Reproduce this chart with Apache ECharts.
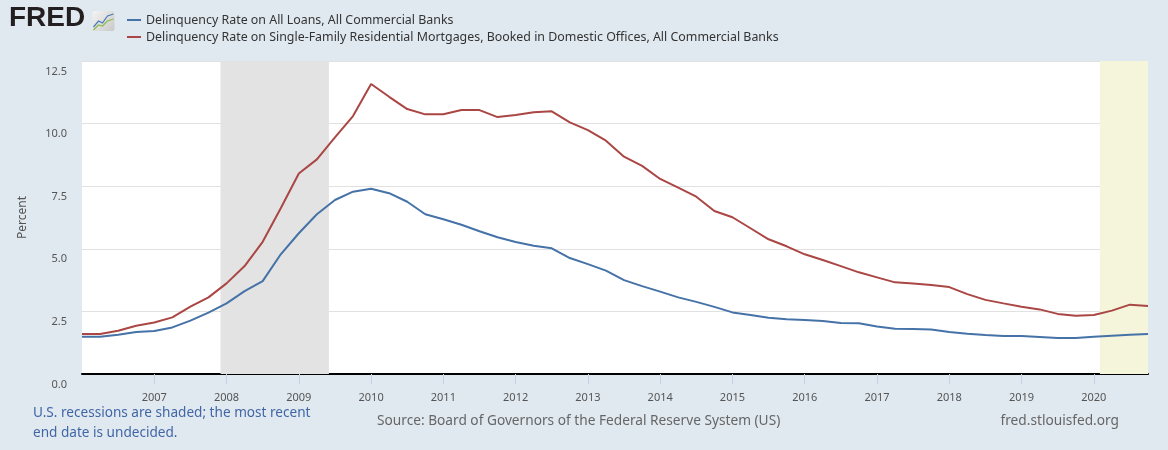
<!DOCTYPE html>
<html>
<head>
<meta charset="utf-8">
<script src="https://cdn.jsdelivr.net/npm/echarts@6/dist/echarts.min.js"></script>
<style>
  html, body { margin: 0; padding: 0; background: #e1e9f0; }
  #chart { width: 1168px; height: 450px; }
</style>
</head>
<body>
<div id="chart"></div>
<script>
// quarterly observations, 2006 Q1 .. 2020 Q4
var quarters = [
  '2006-01-01','2006-04-01','2006-07-01','2006-10-01',
  '2007-01-01','2007-04-01','2007-07-01','2007-10-01',
  '2008-01-01','2008-04-01','2008-07-01','2008-10-01',
  '2009-01-01','2009-04-01','2009-07-01','2009-10-01',
  '2010-01-01','2010-04-01','2010-07-01','2010-10-01',
  '2011-01-01','2011-04-01','2011-07-01','2011-10-01',
  '2012-01-01','2012-04-01','2012-07-01','2012-10-01',
  '2013-01-01','2013-04-01','2013-07-01','2013-10-01',
  '2014-01-01','2014-04-01','2014-07-01','2014-10-01',
  '2015-01-01','2015-04-01','2015-07-01','2015-10-01',
  '2016-01-01','2016-04-01','2016-07-01','2016-10-01',
  '2017-01-01','2017-04-01','2017-07-01','2017-10-01',
  '2018-01-01','2018-04-01','2018-07-01','2018-10-01',
  '2019-01-01','2019-04-01','2019-07-01','2019-10-01',
  '2020-01-01','2020-04-01','2020-07-01','2020-10-01'
];

var allLoans = [
  1.49, 1.49, 1.57, 1.68,
  1.72, 1.86, 2.13, 2.45,
  2.82, 3.31, 3.71, 4.78,
  5.62, 6.38, 6.95, 7.28,
  7.40, 7.22, 6.88, 6.38,
  6.18, 5.96, 5.70, 5.46,
  5.27, 5.12, 5.02, 4.63,
  4.39, 4.13, 3.75, 3.51,
  3.29, 3.06, 2.88, 2.68,
  2.46, 2.36, 2.25, 2.19,
  2.16, 2.12, 2.04, 2.03,
  1.90, 1.81, 1.80, 1.78,
  1.68, 1.61, 1.56, 1.52,
  1.52, 1.48, 1.44, 1.44,
  1.49, 1.53, 1.57, 1.60
];

var mortgages = [
  1.60, 1.60, 1.73, 1.93,
  2.06, 2.26, 2.69, 3.06,
  3.62, 4.31, 5.28, 6.62,
  8.01, 8.57, 9.45, 10.30,
  11.58, 11.07, 10.58, 10.37,
  10.37, 10.54, 10.54, 10.26,
  10.34, 10.45, 10.49, 10.05,
  9.74, 9.32, 8.68, 8.31,
  7.79, 7.44, 7.08, 6.51,
  6.26, 5.82, 5.38, 5.10,
  4.78, 4.55, 4.31, 4.06,
  3.86, 3.66, 3.61, 3.55,
  3.47, 3.19, 2.96, 2.82,
  2.69, 2.58, 2.40, 2.33,
  2.36, 2.53, 2.77, 2.72
];

var seriesNames = [
  'Delinquency Rate on All Loans, All Commercial Banks',
  'Delinquency Rate on Single-Family Residential Mortgages, Booked in Domestic Offices, All Commercial Banks'
];

var recessions = [
  ['2007-12-01', '2009-06-01'],
  ['2020-02-01', '2020-10-01']
];

var xRange = ['2006-01-01', '2020-10-01'];
var yTicks = [0, 2.5, 5, 7.5, 10, 12.5];

// date string -> fractional year, so the x axis can be a plain value axis
function yearOf(d) {
  var p = d.split('-');
  return +p[0] + (+p[1] - 1) / 12 + (+p[2] - 1) / 365;
}

function pairs(vals) {
  return quarters.map(function (d, i) { return [yearOf(d), vals[i]]; });
}

var chart = echarts.init(document.getElementById('chart'));

var option = {
  backgroundColor: '#e1e9f0',
  animation: false,
  textStyle: { fontFamily: 'Noto Sans' },
  grid: { left: 82, right: 20, top: 61, bottom: 76, backgroundColor: '#fff', show: true, borderWidth: 0 },
  legend: {
    left: 122, top: 9, orient: 'vertical', itemGap: 5,
    icon: 'rect', itemWidth: 14, itemHeight: 2,
    textStyle: { fontSize: 12.4, color: '#333', fontFamily: 'Noto Sans' },
    data: seriesNames
  },
  xAxis: {
    type: 'value',
    min: yearOf(xRange[0]), max: yearOf(xRange[1]), interval: 1,
    axisLine: { onZero: false, lineStyle: { color: '#000', width: 2 } },
    axisTick: { show: true, length: 10, lineStyle: { color: '#c4d3e3' } },
    axisLabel: {
      color: '#555', fontSize: 11, margin: 18,
      showMinLabel: false, showMaxLabel: false,
      formatter: function (v) { return Math.abs(v - Math.round(v)) < 1e-6 ? String(Math.round(v)) : ''; }
    },
    splitLine: { show: false }
  },
  yAxis: {
    type: 'value', min: 0, max: yTicks[yTicks.length - 1], interval: 2.5,
    name: 'Percent', nameLocation: 'middle', nameGap: 53, nameRotate: 90,
    nameTextStyle: { color: '#555', fontSize: 12 },
    axisLine: { show: false }, axisTick: { show: false },
    axisLabel: {
      color: '#555', fontSize: 11, margin: 15,
      verticalAlign: 'top', padding: [5, 0, 0, 0],
      formatter: function (v) { return v.toFixed(1); }
    },
    splitLine: { lineStyle: { color: '#e1e1e1' } }
  },
  series: [
    {
      name: seriesNames[0], type: 'line', data: pairs(allLoans),
      symbol: 'none', color: '#4572a7', lineStyle: { width: 2 }, z: 3,
      markArea: {
        silent: true,
        data: [
          [{ xAxis: yearOf(recessions[0][0]), itemStyle: { color: '#e3e3e3' } }, { xAxis: yearOf(recessions[0][1]) }],
          [{ xAxis: yearOf(recessions[1][0]), itemStyle: { color: '#f5f5dc' } }, { xAxis: yearOf(recessions[1][1]) }]
        ]
      }
    },
    {
      name: seriesNames[1], type: 'line', data: pairs(mortgages),
      symbol: 'none', color: '#aa4643', lineStyle: { width: 2 }, z: 3
    }
  ],
  graphic: [
    {
      type: 'text', left: 9, top: 4,
      style: { text: 'FRED', font: 'bold 28px "Liberation Sans"', fill: '#231f20' }
    },
    {
      type: 'group', left: 91, top: 11,
      children: [
        { type: 'rect', shape: { x: 0, y: 0, width: 22, height: 20, r: 2 },
          style: { fill: { type: 'linear', x: 0, y: 0, x2: 1, y2: 1,
            colorStops: [{ offset: 0, color: '#f4f4f4' }, { offset: 1, color: '#c9c9c9' }] } } },
        { type: 'polyline', shape: { points: [[1, 16], [6, 10], [10, 12], [15, 5], [21, 3]] },
          style: { stroke: '#4a7bb7', lineWidth: 1.2, fill: null } },
        { type: 'polyline', shape: { points: [[1, 19], [6, 14], [10, 15], [15, 10], [21, 8]] },
          style: { stroke: '#8cbc4f', lineWidth: 1.2, fill: null } }
      ]
    },
    {
      type: 'text', left: 33, top: 403,
      style: { text: 'U.S. recessions are shaded; the most recent\nend date is undecided.',
        font: '13.6px "Noto Sans"', lineHeight: 20, fill: '#4166a6' }
    },
    {
      type: 'text', left: 377, top: 414,
      style: { text: 'Source: Board of Governors of the Federal Reserve System (US)',
        font: '13.7px "Noto Sans"', fill: '#666' }
    },
    {
      type: 'text', right: 49, top: 414,
      style: { text: 'fred.stlouisfed.org', font: '13.7px "Noto Sans"', fill: '#666' }
    }
  ]
};

chart.setOption(option);
</script>
</body>
</html>
